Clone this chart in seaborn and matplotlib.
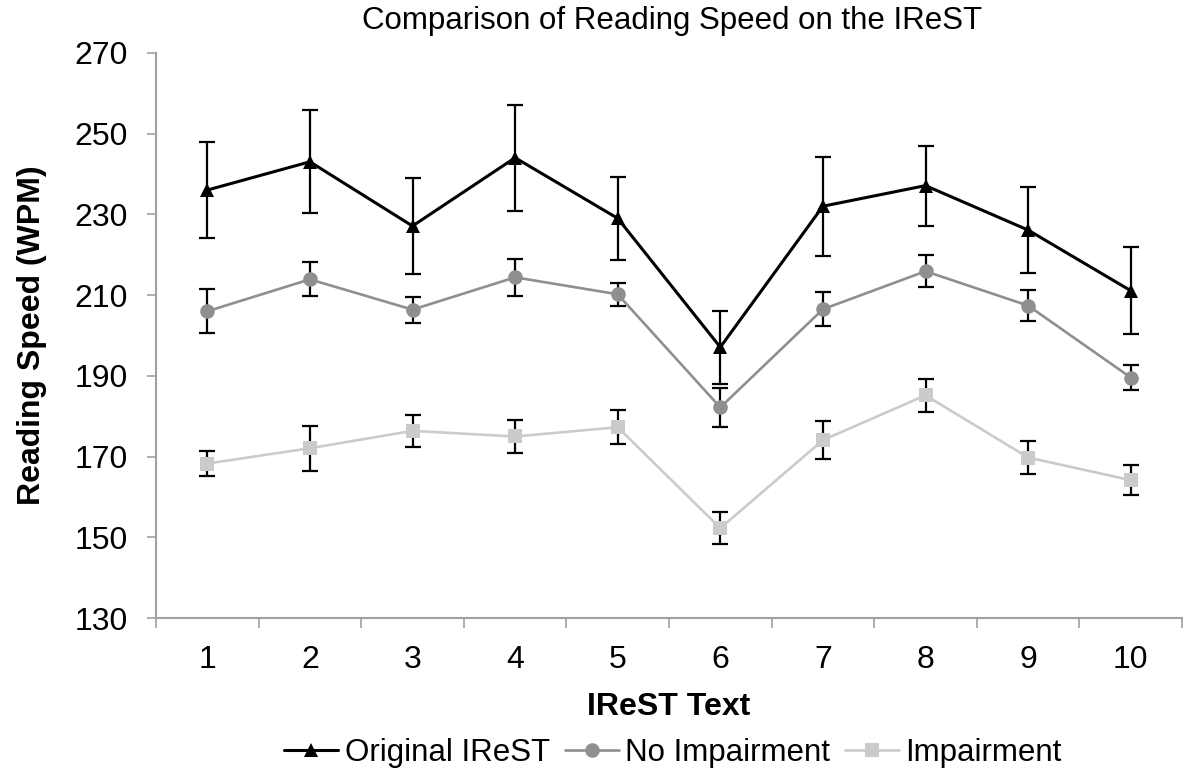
import matplotlib
matplotlib.use("Agg")
import matplotlib.pyplot as plt
import seaborn as sns
import pandas as pd
import numpy as np

texts = [1, 2, 3, 4, 5, 6, 7, 8, 9, 10]
original = [236.0, 243.0, 227.1, 244.0, 229.0, 197.1, 232.0, 237.1, 226.1, 211.1]
original_err = [11.9, 12.8, 12.0, 13.1, 10.3, 9.0, 12.3, 9.9, 10.7, 10.8]
no_impair = [206.0, 213.9, 206.4, 214.4, 210.2, 182.2, 206.5, 215.9, 207.4, 189.6]
no_impair_err = [5.4, 4.2, 3.2, 4.5, 2.9, 4.9, 4.2, 4.0, 3.9, 3.0]
impair = [168.3, 172.1, 176.4, 175.0, 177.3, 152.3, 174.1, 185.2, 169.8, 164.2]
impair_err = [3.1, 5.6, 3.9, 4.0, 4.2, 3.9, 4.7, 4.1, 4.0, 3.8]
series_names = ["Original IReST", "No Impairment", "Impairment"]
y_ticks = [130, 150, 170, 190, 210, 230, 250, 270]

sns.set_theme(style="white")
plt.rcParams['font.family'] = ['Liberation Sans', 'DejaVu Sans']
plt.rcParams['text.color'] = 'black'
plt.rcParams['axes.labelcolor'] = 'black'
plt.rcParams['xtick.color'] = 'black'
plt.rcParams['ytick.color'] = 'black'

df = pd.DataFrame({
    "text": texts * 3,
    "speed": original + no_impair + impair,
    "series": [series_names[0]] * 10 + [series_names[1]] * 10 + [series_names[2]] * 10,
})

colors = {"Original IReST": "#000000", "No Impairment": "#8f8f8f", "Impairment": "#cbcbcb"}
markers = {"Original IReST": "^", "No Impairment": "o", "Impairment": "s"}
lws = {"Original IReST": 2.2, "No Impairment": 1.9, "Impairment": 1.9}

W, H = 1183, 776
fig = plt.figure(figsize=(W / 100, H / 100), dpi=100)
L, R, T, B = 156, 1182, 52.7, 618.3
ax = fig.add_axes([L / W, 1 - B / H, (R - L) / W, (B - T) / H])

errs = {"Original IReST": original_err, "No Impairment": no_impair_err, "Impairment": impair_err}
vals = {"Original IReST": original, "No Impairment": no_impair, "Impairment": impair}

for name in series_names:
    ax.errorbar(texts, vals[name], yerr=errs[name], fmt="none", ecolor="black",
                elinewidth=1.6, capsize=5.5, capthick=1.6, zorder=2)

for name in series_names:
    sub = df[df["series"] == name]
    sns.lineplot(data=sub, x="text", y="speed", ax=ax, color=colors[name],
                 marker=markers[name], markersize=10.5, markeredgewidth=0,
                 linewidth=lws[name], label=name, zorder=3)

ax.set_xlim(0.5, 10.5)
ax.set_ylim(130, 270)
ax.set_yticks(y_ticks)
ax.set_yticklabels([str(t) for t in y_ticks], fontsize=23)
ax.set_xticks(texts)
ax.set_xticklabels([str(t) for t in texts], fontsize=23)
ax.set_xticks(np.arange(0.5, 11, 1.0), minor=True)
ax.tick_params(axis="x", which="major", length=0, pad=19)
ax.tick_params(axis="x", which="minor", length=7, width=1.2, color="#a0a0a0", direction="out", bottom=True)
ax.tick_params(axis="y", which="major", length=6.5, width=1.2, color="#a0a0a0", direction="out", left=True, pad=14)

for s in ["top", "right"]:
    ax.spines[s].set_visible(False)
for s in ["left", "bottom"]:
    ax.spines[s].set_color("#a0a0a0")
    ax.spines[s].set_linewidth(1.5)

ax.set_xlabel("IReST Text", fontsize=23, fontweight="bold")
ax.xaxis.label.set_va("center")
ax.xaxis.set_label_coords(0.5, -(707 - B) / (B - T))
ax.set_ylabel("Reading Speed (WPM)", fontsize=23, fontweight="bold")
ax.yaxis.label.set_va("center")
ax.yaxis.set_label_coords(-(L - 32) / (R - L), 0.5)

fig.text(672 / W, 1 - 21 / H, "Comparison of Reading Speed on the IReST", ha="center", va="center", fontsize=22.5)

handles, labels = ax.get_legend_handles_labels()
ax.get_legend().remove()
fig.legend(handles, labels, loc="center", bbox_to_anchor=(673 / W, 1 - 753 / H), ncol=3, frameon=False,
           fontsize=22.5, handlelength=1.73, handletextpad=0.2, columnspacing=0.48, borderaxespad=0,
           borderpad=0)

fig.savefig("out.png", dpi=100)
